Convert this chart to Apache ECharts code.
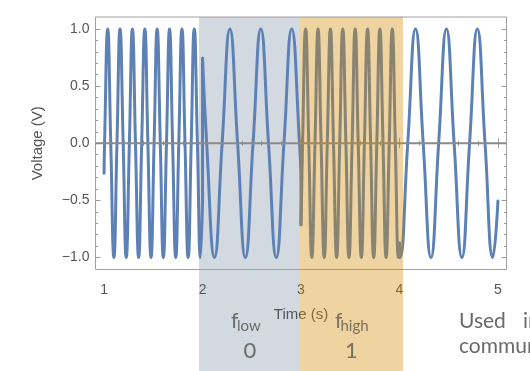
<!DOCTYPE html>
<html><head><meta charset="utf-8">
<script src="https://cdn.jsdelivr.net/npm/echarts@6/dist/echarts.min.js"></script>
<style>html,body{margin:0;padding:0;background:#fff;}#c{width:530px;height:371px;}</style>
</head><body><div id="c"></div>
<script>
// Tick values
const xMajorTicks = [1, 2, 3, 4, 5];
const xMinorTicks = [1.2, 1.4, 1.6, 1.8, 2.2, 2.4, 2.6, 2.8, 3.2, 3.4, 3.6, 3.8, 4.2, 4.4, 4.6, 4.8];
const yMajorTicks = [-1, -0.5, 0, 0.5, 1];
const yMinorTicks = [-0.9, -0.8, -0.7, -0.6, -0.4, -0.3, -0.2, -0.1, 0.1, 0.2, 0.3, 0.4, 0.6, 0.7, 0.8, 0.9];

// Signal key points [time (s), voltage (V)]: peaks, troughs, zero crossings
// 1–2 s: high frequency
const segA = [[1.000,-0.262],[1.005,0],[1.037,1],[1.068,0],[1.100,-1],[1.131,0],[1.162,1],[1.194,0],[1.225,-1],
  [1.257,0],[1.288,1],[1.319,0],[1.351,-1],[1.382,0],[1.414,1],[1.445,0],[1.477,-1],[1.508,0],[1.539,1],[1.571,0],
  [1.602,-1],[1.634,0],[1.665,1],[1.696,0],[1.728,-1],[1.759,0],[1.791,1],[1.822,0],[1.854,-1],[1.885,0],[1.916,1],
  [1.948,0],[1.979,-1],[2.000,-0.506]];
// 2–3 s: low frequency
const segB = [[2.000,0.745],[2.042,0],[2.121,-1],[2.199,0],[2.278,1],[2.356,0],[2.435,-1],[2.513,0],[2.592,1],
  [2.670,0],[2.749,-1],[2.827,0],[2.906,1],[2.985,0],[3.000,-0.305]];
// 3–4 s: high frequency
const segC = [[3.000,-0.714],[3.016,0],[3.047,1],[3.079,0],[3.110,-1],[3.142,0],[3.173,1],[3.204,0],[3.236,-1],
  [3.267,0],[3.299,1],[3.330,0],[3.362,-1],[3.393,0],[3.424,1],[3.456,0],[3.487,-1],[3.519,0],[3.550,1],[3.581,0],
  [3.613,-1],[3.644,0],[3.676,1],[3.707,0],[3.738,-1],[3.770,0],[3.801,1],[3.833,0],[3.864,-1],[3.896,0],[3.927,1],
  [3.958,0],[3.990,-1],[4.000,-0.873]];
// 4–5 s: low frequency
const segD = [[4.000,-0.994],[4.006,-1],[4.084,0],[4.163,1],[4.241,0],[4.320,-1],[4.398,0],[4.477,1],[4.555,0],
  [4.634,-1],[4.712,0],[4.791,1],[4.869,0],[4.948,-1],[5.000,-0.506]];

const segments = [segA, segB, segC, segD];
const zeroLevel = 0;

const XMIN = 0.913, XMAX = 5.087, YMIN = -1.105, YMAX = 1.105;
const LINE = '#5e81b5';
const TICK = '#9a9a9a';
const LABEL = '#555555';

function fmtY(v) { return v.toFixed(1).replace('-', '\u2212'); }

function xAx(pos, ticks, len, withLabels, extra) {
  return Object.assign({
    type: 'value', min: XMIN, max: XMAX, position: pos,
    axisLine: { show: false }, splitLine: { show: false },
    axisTick: { show: true, inside: true, length: len, customValues: ticks, lineStyle: { color: TICK, width: 1 } },
    axisLabel: withLabels ? { show: true, customValues: ticks, margin: 14, fontSize: 14, color: LABEL,
      fontFamily: 'Liberation Sans', formatter: v => String(v) } : { show: false }
  }, extra || {});
}
function yAx(pos, ticks, len, withLabels, extra) {
  return Object.assign({
    type: 'value', min: YMIN, max: YMAX, position: pos,
    axisLine: { show: false }, splitLine: { show: false },
    axisTick: { show: true, inside: true, length: len, customValues: ticks, lineStyle: { color: TICK, width: 1 } },
    axisLabel: withLabels ? { show: true, customValues: ticks, margin: 6, fontSize: 14, color: LABEL,
      fontFamily: 'Liberation Sans', formatter: fmtY } : { show: false }
  }, extra || {});
}

const series = [];
segments.forEach((seg, i) => {
  series.push({
    type: 'line', data: seg, smooth: 0.5, showSymbol: false, symbol: 'none',
    lineStyle: { color: LINE, width: 3, cap: 'round', join: 'round' }, z: 2, silent: true
  });
  if (i < segments.length - 1) {
    const next = segments[i + 1];
    series.push({
      type: 'line', data: [seg[seg.length - 1], next[0]], smooth: false, showSymbol: false, symbol: 'none',
      lineStyle: { color: LINE, width: 3, cap: 'round' }, z: 2, silent: true
    });
  }
});
// horizontal zero axis drawn over the signal
series.push({
  type: 'line', data: [[XMIN, zeroLevel], [XMAX, zeroLevel]], showSymbol: false, symbol: 'none', z: 20, zlevel: 0,
  silent: true, lineStyle: { color: '#8a8a8a', width: 2 }
});

const TXT = '#6a6a6a';
const chart = echarts.init(document.getElementById('c'));
chart.setOption({
  animation: false,
  grid: { left: 95.5, right: 23.5, top: 17, bottom: 101.5, show: true, borderColor: '#a0a0a0', borderWidth: 1,
    backgroundColor: 'transparent' },
  xAxis: [
    xAx('bottom', xMajorTicks, 5, true, { name: 'Time (s)', nameLocation: 'middle', nameGap: 38,
      nameTextStyle: { fontSize: 15, color: LABEL, fontFamily: 'Liberation Sans' } }),
    xAx('bottom', xMinorTicks, 2.5, false),
    xAx('top', xMajorTicks, 5, false),
    xAx('top', xMinorTicks, 2.5, false)
  ],
  yAxis: [
    yAx('left', yMajorTicks, 5, true, { name: 'Voltage (V)', nameLocation: 'middle', nameGap: 50,
      nameTextStyle: { fontSize: 15, color: LABEL, fontFamily: 'Liberation Sans' } }),
    yAx('left', yMinorTicks, 2.5, false),
    yAx('right', yMajorTicks, 5, false),
    yAx('right', yMinorTicks, 2.5, false)
  ],
  series: series,
  graphic: [
    { type: 'rect', z: -1, silent: true, shape: { x: 199, y: 17, width: 101, height: 354 }, style: { fill: '#d3d9e1' } },
    { type: 'text', z: 10, style: { text: 'f', x: 231, y: 321, fontSize: 21, fontFamily: 'Lato', fill: TXT, verticalAlign: 'middle', align: 'left' } },
    { type: 'text', z: 10, style: { text: 'low', x: 237, y: 326.5, fontSize: 15, fontFamily: 'Lato', fill: TXT, verticalAlign: 'middle', align: 'left' } },
    { type: 'text', z: 10, style: { text: '0', x: 250, y: 350.5, fontSize: 22, fontFamily: 'Lato', fill: TXT, verticalAlign: 'middle', align: 'center' } },
    { type: 'rect', z: 100, silent: true, shape: { x: 300, y: 17, width: 103, height: 354 }, style: { fill: 'rgba(212,136,0,0.37)' } },
    { type: 'text', z: 110, style: { text: 'f', x: 335, y: 321, fontSize: 21, fontFamily: 'Lato', fill: '#7a6e5e', verticalAlign: 'middle', align: 'left' } },
    { type: 'text', z: 110, style: { text: 'high', x: 340.5, y: 326.5, fontSize: 15, fontFamily: 'Lato', fill: '#7a6e5e', verticalAlign: 'middle', align: 'left' } },
    { type: 'text', z: 110, style: { text: '1', x: 351.5, y: 350.5, fontSize: 22, fontFamily: 'Lato', fill: '#7a6e5e', verticalAlign: 'middle', align: 'center' } },
    { type: 'text', z: 10, style: { text: 'Used', x: 459, y: 321, fontSize: 21, fontFamily: 'Lato', fill: TXT, verticalAlign: 'middle', align: 'left' } },
    { type: 'text', z: 10, style: { text: 'in', x: 523, y: 321, fontSize: 21, fontFamily: 'Lato', fill: TXT, verticalAlign: 'middle', align: 'left' } },
    { type: 'text', z: 10, style: { text: 'communications', x: 459, y: 346, fontSize: 21, fontFamily: 'Lato', fill: TXT, verticalAlign: 'middle', align: 'left' } }
  ]
});
</script>
</body></html>
